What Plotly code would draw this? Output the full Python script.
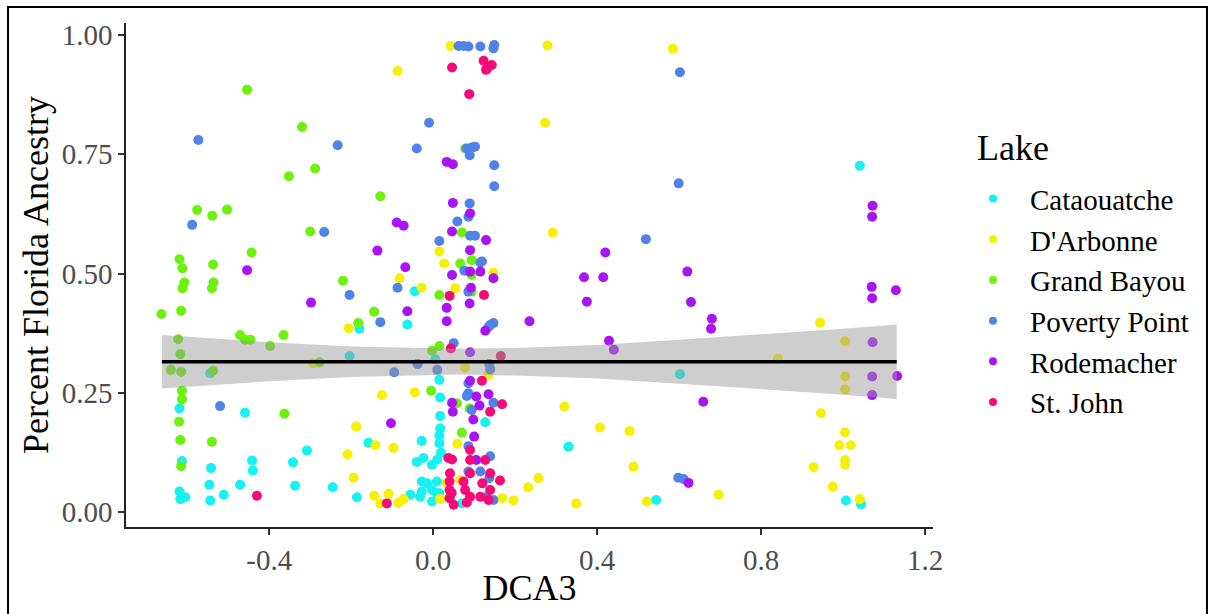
import plotly.graph_objects as go

# ---------------- data ----------------
lakes = ["Cataouatche", "D'Arbonne", "Grand Bayou", "Poverty Point", "Rodemacher", "St. John"]
lake_colors = ["#16F2F2", "#F7F000", "#6CF20A", "#5083E8", "#A914F5", "#F50A78"]

cat_x = [-0.045, -0.063, -0.180, -0.204, 0.005, -0.544, 0.015, 0.017, -0.619, -0.459, 0.017, 0.017, 0.015,
         0.015, -0.028, -0.158, -0.308, 0.019, -0.613, -0.442, -0.440, -0.342, -0.542, -0.040, -0.024, -0.003,
         0.010, -0.028, -0.015, -0.003, 0.009, -0.546, -0.544, -0.471, -0.337, -0.245, -0.619, -0.617, -0.605,
         -0.511, -0.186, -0.056, -0.028, -0.003, 0.009, 0.070, 0.330, 0.602, 0.544, 1.007, 1.044, 1.041, 0.127,
         -0.032, 0.015]
cat_y = [0.463, 0.393, 0.384, 0.327, 0.320, 0.291, 0.277, 0.240, 0.217, 0.208, 0.201, 0.175, 0.161,
         0.144, 0.149, 0.145, 0.129, 0.124, 0.107, 0.108, 0.087, 0.104, 0.092, 0.105, 0.113, 0.099,
         0.110, 0.064, 0.060, 0.046, 0.064, 0.057, 0.024, 0.057, 0.055, 0.052, 0.043, 0.027, 0.031,
         0.036, 0.031, 0.036, 0.043, 0.022, 0.039, 0.018, 0.137, 0.289, 0.025, 0.024, 0.016, 0.726, 0.188,
         0.032, 0.039]

dar_x = [-0.087, 0.043, 0.279, 0.273, 0.585, 0.015, 0.027, 0.292, -0.082, -0.028, 0.054, 0.147, -0.206,
         -0.293, 0.078, 0.135, -0.125, -0.045, -0.188, -0.141, -0.097, -0.209, -0.194, -0.144, -0.109, -0.129,
         -0.085, -0.072, 0.017, 0.059, 0.033, 0.066, 0.168, 0.196, 0.232, 0.257, 0.349, 0.320, 0.407, 0.479,
         0.489, 0.521, 0.696, 0.944, 1.005, 0.841, 1.005, 1.005, 0.946, 1.005, 0.991, 1.019, 0.928, 1.005,
         1.005, 0.975, 1.041]
dar_y = [0.925, 0.977, 0.978, 0.816, 0.971, 0.546, 0.521, 0.586, 0.490, 0.470, 0.469, 0.502, 0.385,
         0.312, 0.303, 0.287, 0.245, 0.251, 0.179, 0.140, 0.134, 0.121, 0.072, 0.034, 0.038, 0.018,
         0.019, 0.027, 0.027, 0.143, 0.061, 0.067, 0.029, 0.024, 0.052, 0.071, 0.018, 0.221, 0.177, 0.170,
         0.095, 0.022, 0.036, 0.397, 0.358, 0.321, 0.284, 0.257, 0.207, 0.167, 0.140, 0.140, 0.094, 0.109,
         0.099, 0.053, 0.027]

gb_x = [-0.454, -0.320, -0.352, -0.288, -0.129, -0.576, -0.539, -0.503, -0.300, -0.443, -0.619, -0.537,
        -0.612, -0.607, -0.612, -0.536, -0.540, -0.220, 0.015, -0.663, -0.615, -0.144, -0.183, -0.471,
        -0.459, -0.446, -0.365, -0.398, -0.622, -0.617, -0.640, -0.615, -0.537, -0.277, -0.003, 0.015,
        -0.613, -0.613, -0.005, -0.363, -0.620, -0.617, -0.540, -0.615, 0.078, 0.070, 0.066, 0.094, 0.094,
        0.094, 0.058, 0.089, 0.070]
gb_y = [0.885, 0.807, 0.704, 0.720, 0.662, 0.633, 0.621, 0.634, 0.588, 0.544, 0.530, 0.519,
        0.511, 0.481, 0.469, 0.481, 0.469, 0.485, 0.455, 0.415, 0.422, 0.420, 0.396, 0.371,
        0.361, 0.361, 0.371, 0.348, 0.362, 0.331, 0.298, 0.294, 0.296, 0.314, 0.338, 0.348,
        0.254, 0.236, 0.254, 0.206, 0.189, 0.151, 0.147, 0.096, 0.762, 0.586, 0.521, 0.528, 0.497,
        0.462, 0.228, 0.217, 0.166]

pp_x = [-0.573, -0.010, -0.233, -0.040, -0.588, -0.266, 0.015, 0.062, 0.074, 0.086, 0.115, 0.147, 0.149,
        0.082, 0.094, 0.102, 0.089, 0.149, 0.149, 0.089, 0.086, 0.059, 0.090, 0.102, 0.119, 0.076, 0.115,
        0.086, -0.204, -0.087, -0.129, 0.135, 0.147, 0.139, 0.050, -0.095, -0.038, 0.010, 0.139, 0.137,
        0.086, 0.086, 0.082, 0.147, 0.094, 0.086, 0.139, 0.086, 0.115, 0.137, 0.131, 0.147, -0.520, 0.602,
        0.599, 0.519, 0.598, 0.611]
pp_y = [0.780, 0.816, 0.769, 0.762, 0.602, 0.587, 0.568, 0.977, 0.977, 0.976, 0.976, 0.972, 0.979,
        0.762, 0.764, 0.766, 0.748, 0.727, 0.683, 0.647, 0.619, 0.609, 0.579, 0.579, 0.525, 0.506, 0.523,
        0.462, 0.455, 0.470, 0.398, 0.388, 0.396, 0.392, 0.354, 0.293, 0.310, 0.298, 0.299, 0.310,
        0.270, 0.249, 0.243, 0.229, 0.214, 0.138, 0.117, 0.085, 0.085, 0.071, 0.032, 0.025, 0.222, 0.922,
        0.689, 0.572, 0.072, 0.069]

rod_x = [0.033, 0.048, -0.089, -0.072, -0.136, -0.454, -0.068, -0.298, -0.063, 0.033, 0.033, -0.103,
         0.048, 0.090, 0.046, 0.129, 0.090, 0.046, 0.090, 0.115, 0.147, 0.092, 0.089, 0.235, 0.127, 0.090,
         0.090, 0.135, 0.046, 0.048, 0.105, 0.113, 0.098, 0.100, 0.105, 1.072, 1.071, 0.420, 0.620, 0.368,
         0.415, 0.375, 0.629, 0.680, 0.678, 1.070, 1.071, 1.129, 0.429, 0.441, 1.072, 1.071, 1.071, 1.132,
         0.659, 0.623]
rod_y = [0.734, 0.729, 0.607, 0.600, 0.548, 0.507, 0.513, 0.439, 0.421, 0.428, 0.400, 0.186,
         0.648, 0.626, 0.588, 0.570, 0.549, 0.497, 0.504, 0.504, 0.490, 0.470, 0.437, 0.400, 0.380, 0.335,
         0.275, 0.247, 0.229, 0.210, 0.242, 0.223, 0.194, 0.158, 0.109, 0.642, 0.619, 0.544, 0.504, 0.492,
         0.492, 0.441, 0.440, 0.405, 0.384, 0.472, 0.448, 0.465, 0.359, 0.340, 0.356, 0.284, 0.245, 0.285,
         0.231, 0.061]

stj_x = [0.046, 0.123, 0.132, 0.143, 0.129, 0.088, 0.040, 0.124, 0.043, 0.165, 0.119, 0.168, 0.139,
         0.090, 0.090, 0.046, 0.127, 0.037, 0.041, 0.090, 0.139, 0.163, 0.040, 0.040, 0.040, 0.074, 0.078,
         0.090, 0.115, 0.139, 0.135, 0.050, -0.430, -0.113, 0.045, 0.082, 0.120]
stj_y = [0.932, 0.946, 0.930, 0.937, 0.927, 0.876, 0.453, 0.455, 0.343, 0.327, 0.275, 0.226, 0.210,
         0.130, 0.109, 0.110, 0.109, 0.113, 0.081, 0.081, 0.081, 0.066, 0.064, 0.046, 0.029, 0.064, 0.046,
         0.032, 0.032, 0.046, 0.025, 0.015, 0.034, 0.018, 0.040, 0.020, 0.060]

series_x = [cat_x, dar_x, gb_x, pp_x, rod_x, stj_x]
series_y = [cat_y, dar_y, gb_y, pp_y, rod_y, stj_y]

# linear fit and its confidence band
fit_x = [-0.662, 1.131]
fit_y = [0.315, 0.315]
band_x = [-0.662, -0.4, -0.2, 0.0, 0.06, 0.2, 0.4, 0.6, 0.8, 1.0, 1.131]
band_lower = [0.259, 0.274, 0.283, 0.288, 0.288, 0.286, 0.280, 0.269, 0.258, 0.246, 0.237]
band_upper = [0.371, 0.356, 0.347, 0.342, 0.342, 0.344, 0.350, 0.361, 0.372, 0.384, 0.393]

x_tickvals = [-0.4, 0.0, 0.4, 0.8, 1.2]
x_ticktext = ["-0.4", "0.0", "0.4", "0.8", "1.2"]
y_tickvals = [0.0, 0.25, 0.5, 0.75, 1.0]
y_ticktext = ["0.00", "0.25", "0.50", "0.75", "1.00"]
legend_title = "Lake"

# ---------------- figure ----------------
FONT = "Liberation Serif, Times New Roman, serif"
fig = go.Figure()

for name, col, xs, ys in zip(lakes, lake_colors, series_x, series_y):
    fig.add_trace(go.Scatter(x=xs, y=ys, mode="markers", name=name, showlegend=False,
                             marker=dict(color=col, size=10, line=dict(width=0))))

# confidence band (drawn over points, semi-transparent like ggplot)
fig.add_trace(go.Scatter(x=band_x, y=band_upper, mode="lines", line=dict(width=0),
                         showlegend=False, hoverinfo="skip"))
fig.add_trace(go.Scatter(x=band_x, y=band_lower, mode="lines", line=dict(width=0),
                         fill="tonexty", fillcolor="rgba(153,153,153,0.48)",
                         showlegend=False, hoverinfo="skip"))
fig.add_trace(go.Scatter(x=fit_x, y=fit_y, mode="lines", line=dict(color="black", width=3.5),
                         showlegend=False))

# legend-only entries with smaller keys
for name, col in zip(lakes, lake_colors):
    fig.add_trace(go.Scatter(x=[None], y=[None], mode="markers", name=name,
                             marker=dict(color=col, size=8)))

axis_common = dict(showgrid=False, zeroline=False, showline=True, linecolor="#222222", linewidth=1.5,
                   ticks="outside", ticklen=6, tickwidth=1.5, tickcolor="#333333",
                   tickfont=dict(family=FONT, size=29, color="#4D4D4D"))

fig.update_layout(
    width=1216, height=614,
    paper_bgcolor="white", plot_bgcolor="white",
    margin=dict(l=126, r=283, t=23, b=87),
    xaxis=dict(range=[-0.7495, 1.2195], tickvals=x_tickvals, ticktext=x_ticktext,
               title=dict(text="DCA3", font=dict(family=FONT, size=36, color="black"), standoff=0),
               **axis_common),
    yaxis=dict(range=[-0.0315, 1.0252], tickvals=y_tickvals, ticktext=y_ticktext,
               title=dict(text="Percent Florida Ancestry", font=dict(family=FONT, size=36, color="black"),
                          standoff=2),
               **axis_common),
    legend=dict(font=dict(family=FONT, size=29, color="black"), traceorder="normal",
                x=1.0285, xanchor="left", y=0.702, yanchor="top",
                itemwidth=64, bgcolor="rgba(0,0,0,0)"),
    annotations=[dict(text=legend_title, xref="paper", yref="paper", x=1.052, y=0.752,
                      xanchor="left", yanchor="middle", showarrow=False,
                      font=dict(family=FONT, size=36, color="black"))],
    shapes=[dict(type="rect", xref="paper", yref="paper",
                 x0=-0.1462, x1=1.3395, y0=-0.19, y1=1.0317,
                 line=dict(color="black", width=2), fillcolor="rgba(0,0,0,0)", layer="above")],
)

fig.write_html("out.html", post_script="document.body.style.margin='0';",
               config={"displayModeBar": False})
